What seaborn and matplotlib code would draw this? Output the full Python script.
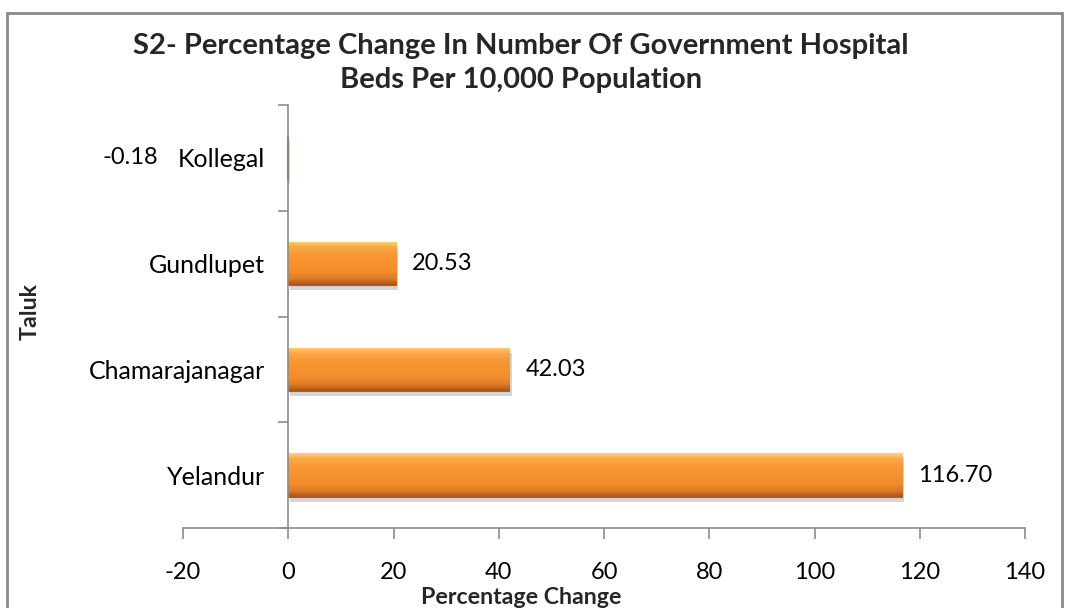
import matplotlib
matplotlib.use("Agg")
import matplotlib.pyplot as plt
import matplotlib.patheffects as pe
from matplotlib.colors import LinearSegmentedColormap
from matplotlib.patches import Rectangle
import numpy as np
import pandas as pd
import seaborn as sns

# Data
taluks = ["Kollegal", "Gundlupet", "Chamarajanagar", "Yelandur"]
pct_change = [-0.18, 20.53, 42.03, 116.70]
x_ticks = [-20, 0, 20, 40, 60, 80, 100, 120, 140]

title_text = "S2- Percentage Change In Number Of Government Hospital\nBeds Per 10,000 Population"
x_label = "Percentage Change"
y_label = "Taluk"

sns.set_theme(style="white")
plt.rcParams["font.family"] = ["Lato", "DejaVu Sans"]

df = pd.DataFrame({"Taluk": taluks, "Change": pct_change})

W, H = 1067, 608
fig = plt.figure(figsize=(W / 100, H / 100), dpi=100)
ax = fig.add_axes([183 / W, 1 - 528 / H, (1025 - 183) / W, (528 - 105) / H])

sns.barplot(data=df, x="Change", y="Taluk", order=taluks, orient="h",
            color="#F7922F", width=0.41, ax=ax, saturation=1)

ax.set_xlim(-20, 140)
ax.set_ylim(len(taluks) - 0.5, -0.5)

# bevelled orange fill with a soft drop shadow
grad = LinearSegmentedColormap.from_list(
    "bevel",
    [(0.0, "#FFD27A"), (0.12, "#FBAA4A"), (0.3, "#F99834"), (0.7, "#F38D2C"),
     (0.86, "#DD7C26"), (1.0, "#A9561A")])
for bar in ax.patches:
    bar.set_edgecolor("#B0601E")
    bar.set_linewidth(0.8)
    bar.set_path_effects([pe.SimplePatchShadow(offset=(1.5, -3.5), shadow_rgbFace="#000000",
                                               alpha=0.16), pe.Normal()])
    x0, y0 = bar.get_x(), bar.get_y()
    w, h = bar.get_width(), bar.get_height()
    if abs(w) > 0.5:
        g = np.linspace(0, 1, 64).reshape(-1, 1)
        im = ax.imshow(g, cmap=grad, aspect="auto",
                       extent=(x0, x0 + w, y0 + h, y0), zorder=bar.get_zorder() + 0.1,
                       interpolation="bicubic")
        im.set_clip_path(bar)

ax.set_xlim(-20, 140)
ax.set_ylim(len(taluks) - 0.5, -0.5)

# value labels
for i, v in enumerate(pct_change):
    if v >= 0:
        ax.annotate(f"{v:.2f}", xy=(v, i), xytext=(16, 0), textcoords="offset pixels",
                    ha="left", va="center", fontsize=17, color="black")
    else:
        ax.annotate(f"{v:.2f}", xy=(v, i), xytext=(-129, 0), textcoords="offset pixels",
                    ha="right", va="center", fontsize=17, color="black",
                    annotation_clip=False)

# axes styling
axis_gray = "#8C8C8C"
for s in ["top", "right"]:
    ax.spines[s].set_visible(False)
ax.spines["left"].set_position(("data", 0))
ax.spines["left"].set_color(axis_gray)
ax.spines["bottom"].set_color(axis_gray)
ax.spines["left"].set_linewidth(1.2)
ax.spines["bottom"].set_linewidth(1.2)

ax.set_xticks(x_ticks)
ax.set_xticklabels([str(t) for t in x_ticks])
ax.tick_params(axis="x", direction="out", length=8, width=1.2, color=axis_gray,
               pad=16.5, labelsize=17, labelcolor="black", bottom=True)

ax.set_yticks(range(len(taluks)))
ax.set_yticklabels(taluks)
ax.tick_params(axis="y", which="major", length=0, pad=16.5, labelsize=18,
               labelcolor="black", left=True)
ax.set_yticks(np.arange(-0.5, len(taluks), 1.0), minor=True)
ax.tick_params(axis="y", which="minor", direction="out", length=7, width=1.2,
               color=axis_gray, left=True)

ax.set_xlabel("")
ax.set_ylabel("")
ax.grid(False)

fig.text(521 / W, 1 - 597 / H, x_label, ha="center", va="center",
         fontsize=16.7, fontweight="bold")
fig.text(30 / W, 1 - 312 / H, y_label, ha="center", va="center", rotation=90,
         fontsize=16.7, fontweight="bold")
fig.text(521 / W, 1 - 63 / H, title_text, ha="center", va="center",
         fontsize=21, fontweight="bold", linespacing=1.38)

# chart frame
fig.patches.append(Rectangle((7 / W, -0.05), (1062 - 7) / W, 1.05 - 13 / H,
                             transform=fig.transFigure, fill=False,
                             edgecolor="#8A8A8A", linewidth=2))

fig.savefig("out.png", dpi=100)
